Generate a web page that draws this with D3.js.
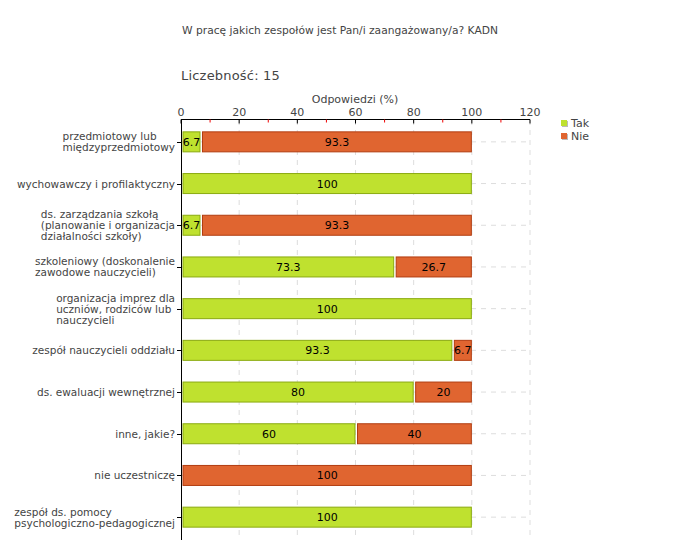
<!DOCTYPE html>
<html><head><meta charset="utf-8">
<script src="https://cdn.jsdelivr.net/npm/d3@7"></script>
<style>body{margin:0;background:#fff}svg{display:block}text{font-family:"DejaVu Sans",Verdana,sans-serif}</style>
</head><body><svg id="c" width="680" height="560"></svg>
<script>
const categories = [
  ["przedmiotowy lub","międzyprzedmiotowy"],
  ["wychowawczy i profilaktyczny"],
  ["ds. zarządzania szkołą","(planowanie i organizacja","działalności szkoły)"],
  ["szkoleniowy (doskonalenie","zawodowe nauczycieli)"],
  ["organizacja imprez dla","uczniów, rodziców lub","nauczycieli"],
  ["zespół nauczycieli oddziału"],
  ["ds. ewaluacji wewnętrznej"],
  ["inne, jakie?"],
  ["nie uczestniczę"],
  ["zespół ds. pomocy","psychologiczno-pedagogicznej"]
];
const tak = [6.7,100,6.7,73.3,100,93.3,80,60,0,100];
const nie = [93.3,0,93.3,26.7,0,6.7,20,40,100,0];
const seriesNames = ["Tak","Nie"];
const xTicks = [0,20,40,60,80,100,120];
const minorTicks = [10,30,50,70,90,110];
const title = "W pracę jakich zespołów jest Pan/i zaangażowany/a? KADN";
const countLabel = "Liczebność:  15";
const axisTitle = "Odpowiedzi (%)";

const fills = ["#bfe12f","#e06530"], strokes = ["#8aaa10","#b13c10"];
const svg = d3.select("#c");
const x = d3.scaleLinear().domain([0,120]).range([181,530]);
const y = d3.scaleBand().domain(d3.range(categories.length)).range([121,538]);
const txt = "#444";

svg.append("text").attr("x",182).attr("y",34).attr("font-size",10.7).attr("fill",txt).text(title);
svg.append("text").attr("x",181).attr("y",80).attr("font-size",13).attr("letter-spacing",0.2).attr("fill",txt).text(countLabel);
svg.append("text").attr("x",355).attr("y",103).attr("font-size",11).attr("text-anchor","middle").attr("fill",txt).text(axisTitle);

// grid
const g = svg.append("g");
g.selectAll(".vg").data(xTicks.slice(1)).join("line")
  .attr("x1",d=>x(d)).attr("x2",d=>x(d)).attr("y1",120).attr("y2",540)
  .attr("stroke","#ddd").attr("stroke-dasharray","5,5");
g.selectAll(".hg").data(d3.range(categories.length)).join("line")
  .attr("x1",181).attr("x2",530).attr("y1",i=>y(i)+y.bandwidth()/2).attr("y2",i=>y(i)+y.bandwidth()/2)
  .attr("stroke","#ddd").attr("stroke-dasharray","5,5");

// top axis
const ax = svg.append("g").attr("transform","translate(0,119.5)");
ax.append("line").attr("x1",181).attr("x2",530).attr("stroke","#000");
ax.selectAll(".mt").data(xTicks).join("line").attr("x1",d=>x(d)).attr("x2",d=>x(d)).attr("y1",0).attr("y2",4).attr("stroke","#000");
ax.selectAll(".mn").data(minorTicks).join("line").attr("x1",d=>x(d)).attr("x2",d=>x(d)).attr("y1",0).attr("y2",3).attr("stroke","#e00");
ax.selectAll(".tl").data(xTicks).join("text").attr("x",d=>x(d)).attr("y",-4).attr("text-anchor","middle")
  .attr("font-size",11).attr("fill",txt).text(d=>d);

// left axis
svg.append("line").attr("x1",181.5).attr("x2",181.5).attr("y1",119).attr("y2",540).attr("stroke","#000");
svg.selectAll(".yt").data(d3.range(categories.length)).join("line")
  .attr("x1",177).attr("x2",181).attr("y1",i=>Math.round(y(i)+y.bandwidth()/2)+0.5).attr("y2",i=>Math.round(y(i)+y.bandwidth()/2)+0.5).attr("stroke","#000");

// category labels
categories.forEach((lines,i)=>{
  const cy = y(i)+y.bandwidth()/2;
  const t = svg.append("text").attr("font-size",10.5).attr("fill",txt);
  const n = lines.length;
  lines.forEach((l,k)=>{
    t.append("tspan").attr("x",0).attr("y",cy+4+(k-(n-1)/2)*11).text(l);
  });
  let w=0; t.selectAll("tspan").each(function(){w=Math.max(w,this.getComputedTextLength());});
  t.selectAll("tspan").attr("x",175-w);
});

// bars
const bh = 20;
categories.forEach((c,i)=>{
  const cy = y(i)+y.bandwidth()/2;
  let start=0;
  [tak[i],nie[i]].forEach((v,s)=>{
    if(v>0){
      const x0=x(start)+2, x1=x(start+v)-0.5;
      svg.append("rect").attr("x",x0).attr("y",cy-bh/2).attr("width",x1-x0).attr("height",bh)
        .attr("fill",fills[s]).attr("stroke",strokes[s]).attr("stroke-width",1);
      svg.append("text").attr("x",(x0+x1)/2).attr("y",cy+4).attr("text-anchor","middle")
        .attr("font-size",11).attr("fill","#000").text(v);
    }
    start+=v;
  });
});

// legend
seriesNames.forEach((n,s)=>{
  const ly=120+s*13;
  svg.append("rect").attr("x",562).attr("y",ly+1).attr("width",6).attr("height",6).attr("fill","#bbb");
  svg.append("rect").attr("x",561).attr("y",ly).attr("width",6).attr("height",6).attr("fill",fills[s]);
  svg.append("text").attr("x",571).attr("y",ly+7).attr("font-size",11).attr("fill",txt).text(n);
});
</script></body></html>
